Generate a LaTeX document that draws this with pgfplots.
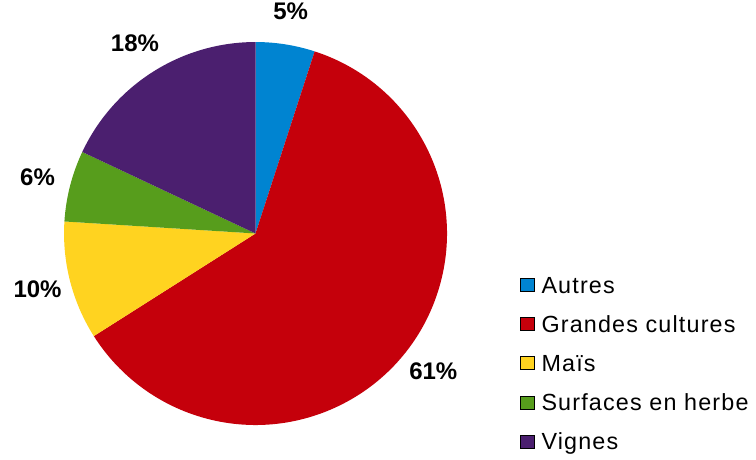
\documentclass[border=0pt]{standalone}
\usepackage{pgfplots}
\pgfplotsset{compat=1.18}
\usepackage{pgfplotstable}
\usepackage{fontspec}
\setmainfont{Liberation Sans}
\newfontfamily\legfont[LetterSpace=5]{Liberation Sans}

\definecolor{cAutres}{HTML}{0084D1}
\definecolor{cGrandes}{HTML}{C5000B}
\definecolor{cMais}{HTML}{FFD320}
\definecolor{cSurfaces}{HTML}{579D1C}
\definecolor{cVignes}{HTML}{4B1F6F}

% share of each land use, in %
\pgfplotstableread{
name value colour
Autres 5 cAutres
{Grandes cultures} 61 cGrandes
Maïs 10 cMais
{Surfaces en herbe} 6 cSurfaces
Vignes 18 cVignes
}\piedata

\begin{document}
\begin{tikzpicture}
% start / end / mid angles of the wedges, clockwise from the top
\def\piecum{0}
\pgfplotsforeachungrouped \i in {0,...,4}{%
  \pgfplotstablegetelem{\i}{value}\of\piedata
  \let\pieval\pgfplotsretval
  \pgfmathsetmacro\piestart{90-3.6*\piecum}%
  \pgfmathsetmacro\pieend{90-3.6*(\piecum+\pieval)}%
  \pgfmathsetmacro\piemid{(\piestart+\pieend)/2}%
  \expandafter\xdef\csname pieS\i\endcsname{\piestart}%
  \expandafter\xdef\csname pieE\i\endcsname{\pieend}%
  \expandafter\xdef\csname pieM\i\endcsname{\piemid}%
  \expandafter\xdef\csname pieV\i\endcsname{\pieval}%
  \pgfplotstablegetelem{\i}{colour}\of\piedata
  \expandafter\xdef\csname pieC\i\endcsname{\pgfplotsretval}%
  \pgfmathsetmacro\piecum{\piecum+\pieval}%
}
\begin{axis}[
  hide axis,
  scale only axis,
  width=567pt, height=345pt,
  xmin=0, xmax=756, ymin=0, ymax=460,
  clip=false,
  legend image code/.code={\fill[#1] (0pt,-4.9pt) rectangle (10.5pt,4.9pt);},
  legend cell align=left,
  legend style={
    at={(axis cs:520,183.5)}, anchor=north west,
    draw=none, fill=none, inner sep=0pt, outer sep=0pt,
    row sep=16.9pt,
    nodes={inner sep=0pt, text height=12.5pt, text depth=0pt,
      font=\legfont\fontsize{17.5}{20}\selectfont},
    /tikz/every odd column/.style={column sep=5.25pt},
  },
]
\pgfplotsinvokeforeach{0,...,4}{
  \edef\piecmd{\noexpand\fill[\csname pieC#1\endcsname]
    (axis cs:255.5,226.5) -- ++(\csname pieS#1\endcsname:143.6pt)
    arc[start angle=\csname pieS#1\endcsname, end angle=\csname pieE#1\endcsname, radius=143.6pt] -- cycle;}
  \piecmd
  \edef\piecmd{\noexpand\path (axis cs:255.5,226.5) ++(\csname pieM#1\endcsname:168.75pt)
    node[font=\noexpand\bfseries\noexpand\fontsize{18}{20}\noexpand\selectfont]
    {\csname pieV#1\endcsname\noexpand\%};}
  \piecmd
}
\addlegendimage{fill=cAutres}\addlegendentry{Autres}
\addlegendimage{fill=cGrandes}\addlegendentry{Grandes cultures}
\addlegendimage{fill=cMais}\addlegendentry{Maïs}
\addlegendimage{fill=cSurfaces}\addlegendentry{Surfaces en herbe}
\addlegendimage{fill=cVignes}\addlegendentry{Vignes}
\end{axis}
\pgfresetboundingbox
\path (0,0) rectangle (567pt,345pt);
\end{tikzpicture}
\end{document}
